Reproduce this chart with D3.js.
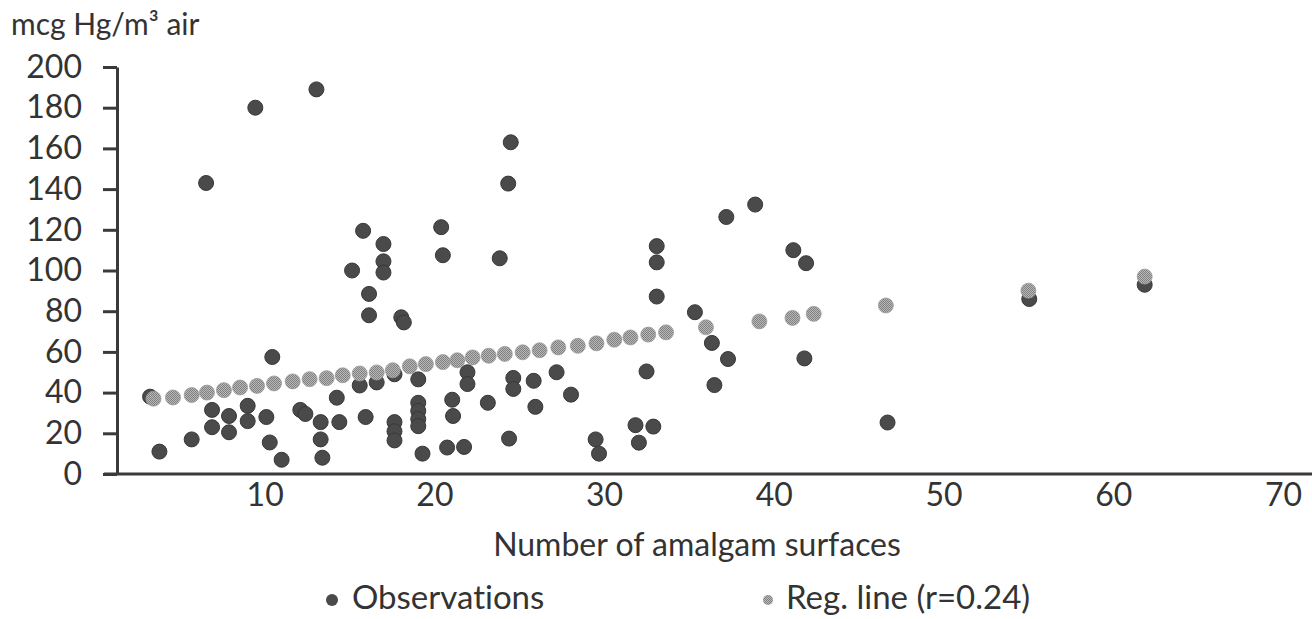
<!DOCTYPE html>
<html>
<head>
<meta charset="utf-8">
<script src="https://cdn.jsdelivr.net/npm/d3@7"></script>
<style>
  body { margin: 0; background: #fff; }
  svg { display: block; }
  text { font-family: Lato, "Open Sans", sans-serif; fill: #333; font-variant-ligatures: none; }
</style>
</head>
<body>
<svg id="chart" width="1312" height="619"></svg>
<script>
// observations: [amalgam surfaces, mcg Hg/m3 air]
const observations = [
  [3.25, 38], [3.8, 11], [5.7, 17], [6.9, 31.5], [6.9, 23], [7.9, 28.5], [7.9, 20.5],
  [9.0, 33.5], [9.0, 26], [10.1, 28], [10.3, 15.5], [10.45, 57.5], [11.0, 7],
  [12.1, 31.5], [12.4, 29.5], [13.3, 25.5], [13.3, 17], [13.4, 8], [14.25, 37.5], [14.4, 25.5],
  [6.55, 143], [9.45, 180], [13.05, 189], [15.8, 119.5], [17.0, 113], [20.4, 121.3],
  [17.0, 104.5], [17.0, 99], [15.15, 100], [20.5, 107.5], [23.85, 106],
  [16.15, 88.5], [16.15, 78], [18.05, 77], [18.2, 74.5],
  [15.6, 43.5], [16.6, 45], [15.95, 28], [17.65, 49], [17.65, 25.5], [17.65, 21], [17.65, 16.5],
  [19.05, 46.5], [19.05, 35], [19.05, 31], [19.05, 27], [19.05, 23.5], [19.3, 10],
  [21.05, 36.5], [21.1, 28.5], [20.75, 13], [21.75, 13.3], [21.95, 50], [21.95, 44.2],
  [23.15, 35], [24.4, 17.4], [24.65, 47.2], [24.65, 41.8], [25.85, 45.8], [25.95, 33],
  [24.5, 163], [24.35, 142.7], [33.1, 112], [33.1, 104], [33.1, 87.2], [37.2, 126.3],
  [38.9, 132.4], [41.15, 110], [41.9, 103.6], [35.35, 79.5], [36.35, 64.4], [37.3, 56.5],
  [36.5, 43.7], [41.8, 56.8], [32.5, 50.4], [27.2, 50], [28.05, 39], [29.5, 17], [29.7, 10],
  [31.85, 24], [32.9, 23.3], [32.05, 15.4],
  [46.7, 25.3], [55.05, 86], [61.85, 93]
];

// fitted values of the regression line, as plotted
const regLine = [
  [3.45, 37], [4.6, 37.6], [5.7, 38.8], [6.6, 40], [7.6, 41.2], [8.55, 42.5], [9.55, 43.3],
  [10.55, 44.5], [11.65, 45.5], [12.65, 46.6], [13.65, 47.1], [14.6, 48.5], [15.6, 49.4],
  [16.6, 49.9], [17.55, 51], [18.55, 52.9], [19.5, 54], [20.5, 55], [21.35, 55.9],
  [22.25, 57.3], [23.2, 58.1], [24.15, 59], [25.2, 59.8], [26.2, 60.8], [27.3, 62.2],
  [28.45, 63], [29.55, 64.2], [30.6, 66], [31.55, 67.1], [32.6, 68.5], [33.65, 69.6],
  [36.0, 72.1], [39.15, 75], [41.1, 76.7], [42.35, 78.7], [46.6, 82.8], [55.0, 90.1],
  [61.85, 97]
];

const xTicks = [10, 20, 30, 40, 50, 60, 70];
const yTicks = [0, 20, 40, 60, 80, 100, 120, 140, 160, 180, 200];
const yTitle = "mcg Hg/m\u00b3 air";
const xTitle = "Number of amalgam surfaces";
const legendLabels = ["Observations", "Reg. line (r=0.24)"];

const svg = d3.select("#chart");
const width = +svg.attr("width");

const x = d3.scaleLinear().domain([1.3, 70]).range([117, 1283]);
const y = d3.scaleLinear().domain([0, 200]).range([474, 67]);

// halftone look of the regression dots
const pat = svg.append("defs").append("pattern")
  .attr("id", "halftone")
  .attr("width", 2).attr("height", 2)
  .attr("patternUnits", "userSpaceOnUse");
pat.append("rect").attr("width", 2).attr("height", 2).attr("fill", "#b8b8b8");
pat.append("rect").attr("width", 1).attr("height", 1).attr("fill", "#808080");
pat.append("rect").attr("x", 1).attr("y", 1).attr("width", 1).attr("height", 1).attr("fill", "#808080");

// y axis
const yAxis = svg.append("g")
  .attr("transform", "translate(" + x.range()[0] + ",0)")
  .call(d3.axisLeft(y).tickValues(yTicks).tickSize(14).tickSizeOuter(0).tickPadding(21));
yAxis.select(".domain").attr("stroke", "#3a3a3a").attr("stroke-width", 3);
yAxis.selectAll(".tick line").attr("stroke", "#3a3a3a").attr("stroke-width", 3);
yAxis.selectAll(".tick text")
  .style("font-size", "32px")
  .style("font-family", "Lato, sans-serif")
  .attr("fill", "#333");

// x axis: labels only, no tick marks
const xAxis = svg.append("g")
  .attr("transform", "translate(0," + y(0) + ")")
  .call(d3.axisBottom(x).tickValues(xTicks).tickSize(0).tickPadding(9));
xAxis.select(".domain").remove();
xAxis.selectAll(".tick text")
  .style("font-size", "32px")
  .style("font-family", "Lato, sans-serif")
  .attr("fill", "#333");
svg.append("line")
  .attr("x1", 104).attr("x2", width)
  .attr("y1", y(0)).attr("y2", y(0))
  .attr("stroke", "#3a3a3a").attr("stroke-width", 3);

// titles
svg.append("text")
  .attr("x", 11).attr("y", 35)
  .style("font-size", "30px")
  .text(yTitle);

svg.append("text")
  .attr("x", 697).attr("y", 556)
  .attr("text-anchor", "middle")
  .style("font-size", "32px")
  .text(xTitle);

// observations
svg.append("g")
  .selectAll("circle")
  .data(observations)
  .enter()
  .append("circle")
  .attr("cx", function(d) { return x(d[0]); })
  .attr("cy", function(d) { return y(d[1]); })
  .attr("r", 7.5)
  .attr("fill", "#4a4a4a")
  .attr("stroke", "#383838")
  .attr("stroke-width", 1);

// regression line dots
svg.append("g")
  .selectAll("circle")
  .data(regLine)
  .enter()
  .append("circle")
  .attr("cx", function(d) { return x(d[0]); })
  .attr("cy", function(d) { return y(d[1]); })
  .attr("r", 7.5)
  .attr("fill", "url(#halftone)")
  .attr("stroke", "#9c9c9c")
  .attr("stroke-width", 0.8);

// legend
const legendX = [332, 768];
const legend = svg.append("g")
  .selectAll("g")
  .data(legendLabels)
  .enter()
  .append("g")
  .attr("transform", function(d, i) { return "translate(" + legendX[i] + ",600)"; });

legend.append("circle")
  .attr("r", function(d, i) { return i == 0 ? 6 : 5; })
  .attr("fill", function(d, i) { return i == 0 ? "#4a4a4a" : "url(#halftone)"; });

legend.append("text")
  .attr("x", function(d, i) { return i == 0 ? 20 : 18; })
  .attr("y", 9)
  .style("font-size", "33px")
  .text(function(d) { return d; });
</script>
</body>
</html>
